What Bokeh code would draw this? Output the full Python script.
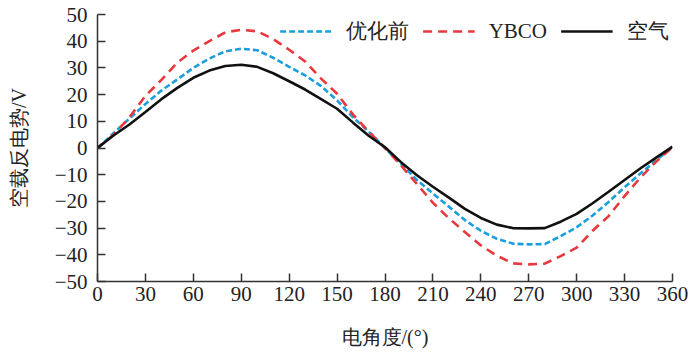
from bokeh.plotting import figure
from bokeh.models import Legend, LegendItem, FixedTicker, Range1d
from bokeh.embed import file_html
from bokeh.resources import INLINE

angle = [0, 10, 20, 30, 40, 50, 60, 70, 80, 90, 100, 110, 120, 130, 140, 150, 160, 170, 180,
         190, 200, 210, 220, 230, 240, 250, 260, 270, 280, 290, 300, 310, 320, 330, 340, 350, 360]

before_opt = [0, 5.5, 11, 16.5, 21.5, 25.7, 30, 33.5, 36.2, 37.2, 36.6, 33.8, 30.4, 27.2, 23.2, 17.8, 11.5, 6, 0,
              -6, -12, -17, -22, -27, -31, -34, -35.8, -36.1, -36, -33, -29.7, -25.3, -20.2, -14.7, -9.5, -4.5, 0.3]

ybco = [0, 5, 11.5, 19.5, 25.5, 32, 36.5, 40, 43.3, 44.3, 43.7, 40.8, 36.8, 32.4, 26, 20.3, 12.5, 6, 0,
        -6.5, -13.5, -20.5, -26.3, -31.5, -36.5, -40.3, -43.2, -43.6, -43.3, -40.5, -37.3, -31, -25.5, -18, -11, -5, 0.3]

air = [0, 4.7, 8.8, 13.5, 18.3, 22.5, 26.3, 29, 30.7, 31.2, 30.4, 28, 25, 21.9, 18.3, 14.7, 9.5, 4.5, 0.3,
       -5.3, -10.2, -14.5, -18.6, -22.8, -26.2, -28.7, -30, -30.1, -30, -27.6, -24.7, -20.7, -16.4, -12, -7.6, -3.5, 0.5]

series_names = ["优化前", "YBCO", "空气"]
x_ticks = [0, 30, 60, 90, 120, 150, 180, 210, 240, 270, 300, 330, 360]
y_ticks = [-50, -40, -30, -20, -10, 0, 10, 20, 30, 40, 50]
y_tick_labels = ["\u221250", "\u221240", "\u221230", "\u221220", "\u221210", "0", "10", "20", "30", "40", "50"]

FONT = "Liberation Serif"

p = figure(width=690, height=354, output_backend="svg", toolbar_location=None,
           x_range=Range1d(0, 360), y_range=Range1d(-50, 50),
           min_border_left=97, min_border_right=18, min_border_top=14, min_border_bottom=73)
p.outline_line_color = None
p.grid.visible = False
p.background_fill_color = "white"

r1 = p.line(angle, before_opt, line_color="#1a9fdc", line_width=2.6, line_dash="6 3")
r2 = p.line(angle, ybco, line_color="#e8383d", line_width=2.6, line_dash="9 6")
r3 = p.line(angle, air, line_color="#111111", line_width=2.6)

for ax in (p.xaxis[0], p.yaxis[0]):
    ax.axis_line_color = "#333333"
    ax.axis_line_width = 1.5
    ax.major_tick_line_color = "#333333"
    ax.major_tick_line_width = 1.5
    ax.major_tick_in = 8
    ax.major_tick_out = 0
    ax.minor_tick_line_color = None
    ax.major_label_text_font = FONT
    ax.major_label_text_font_size = "21px"
    ax.major_label_text_color = "#222222"
    ax.axis_label_text_font = FONT
    ax.axis_label_text_font_size = "20px"
    ax.axis_label_text_font_style = "normal"
    ax.axis_label_text_color = "#222222"

p.xaxis.ticker = FixedTicker(ticks=x_ticks)
p.yaxis.ticker = FixedTicker(ticks=y_ticks)
p.yaxis.major_label_overrides = {t: s for t, s in zip(y_ticks, y_tick_labels)}
p.xaxis.major_label_standoff = 5
p.yaxis.major_label_standoff = 10
p.xaxis.axis_label = "电角度/(°)"
p.yaxis.axis_label = "空载反电势/V"
p.xaxis.axis_label_standoff = 22
p.yaxis.axis_label_standoff = 22

legend = Legend(items=[LegendItem(label=series_names[0], renderers=[r1]),
                       LegendItem(label=series_names[1], renderers=[r2]),
                       LegendItem(label=series_names[2], renderers=[r3])],
                orientation="horizontal", location="top_right",
                glyph_width=52, label_standoff=14, spacing=14,
                padding=0, margin=3, border_line_color=None,
                background_fill_alpha=0,
                label_text_font=FONT, label_text_font_size="21px", label_text_color="#222222")
p.add_layout(legend)

open("out.html", "w").write(file_html(p, INLINE))
